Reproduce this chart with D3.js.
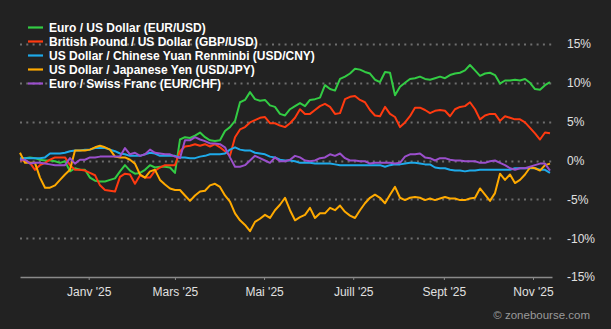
<!DOCTYPE html>
<html><head><meta charset="utf-8">
<script src="https://cdn.jsdelivr.net/npm/d3@7/dist/d3.min.js"></script>
<style>
html,body{margin:0;padding:0;background:#222222;}
svg{display:block;}
</style></head>
<body><svg id="c" width="611" height="329"></svg>
<script>
const seriesNames = ["Euro / US Dollar (EUR/USD)","British Pound / US Dollar (GBP/USD)","US Dollar / Chinese Yuan Renminbi (USD/CNY)","US Dollar / Japanese Yen (USD/JPY)","Euro / Swiss Franc (EUR/CHF)"];
const seriesColors = ["#33cc44","#ff3a10","#1eaaea","#ffaa00","#9b4fcc"];
const eurusd = [0.1,0.3,0.4,0.3,0.1,0,0,-0.1,-0.3,-0.1,-1.4,-1.0,-1.2,-1.2,-2.2,-2.6,-2.7,-2.7,-2.5,-2.3,-1.4,-0.6,-1.3,-1.7,-1.6,-1.2,-0.6,-0.9,-0.8,-0.8,-0.9,-1.6,2.7,3.0,2.9,3.2,3.6,3.0,2.6,2.5,2.6,3.8,4.3,5.1,7.5,7.8,8.8,7.9,7.7,7.8,7.1,6.9,6.0,5.8,6.6,7.0,7.4,7.0,7.8,7.9,8.1,9.7,9.2,9.0,10.5,10.8,11.2,11.8,11.7,11.4,11.2,10.4,10.1,11.4,11.3,8.4,9.5,10.0,10.5,10.6,10.8,10.5,10.4,10.6,10.8,10.6,11.0,11.2,11.3,11.6,12.3,11.6,10.9,11.2,11.3,11.0,9.9,10.3,10.3,10.4,10.3,10.5,10.0,9.2,9.1,9.7,10.1];
const gbpusd = [0,0,-0.3,-1.2,-0.6,-0.3,0.1,0.4,0.4,0.4,-0.6,-1.2,-1.2,-1.3,-1.6,-1.9,-3.2,-3.8,-3.9,-4.0,-2.1,-1.7,-1.8,-3.0,-1.9,-2.2,-2.2,-1.3,-0.9,-0.6,-0.6,-0.6,1.2,1.8,1.9,2.1,1.9,2.1,1.8,2.1,1.7,1.2,0.6,3.0,4.0,4.3,4.9,5.2,5.5,5.6,4.8,4.8,4.5,4.3,4.8,5.5,6.6,6.0,6.0,6.5,7.0,7.3,6.9,6.0,6.1,7.9,8.2,8.3,7.8,7.5,6.5,5.8,5.7,6.9,6.0,5.6,4.3,4.9,5.7,6.8,6.8,6.5,6.1,6.4,6.5,6.4,5.7,6.6,6.9,7.0,7.5,6.6,5.3,5.8,6.0,6.0,5.1,5.7,5.5,5.3,5.3,4.9,4.2,3.5,2.7,3.6,3.5];
const usdcny = [0.3,0.3,0.3,0.3,0.3,0.4,0.9,0.9,0.9,1.0,1.2,1.3,1.3,1.4,1.4,1.6,1.6,1.6,1.4,1.2,0.9,0.8,0.6,0.6,0.6,0.8,1.0,0.9,0.6,0.6,0.6,0.6,0.4,0.4,0.3,0.3,0.5,0.6,0.8,0.8,0.8,0.9,1.4,1.7,1.4,1.3,1.3,1.0,0.9,0.8,0.5,0.4,0.1,0,0,-0.1,-0.3,-0.3,-0.3,-0.4,-0.4,-0.4,-0.4,-0.5,-0.6,-0.6,-0.6,-0.6,-0.6,-0.6,-0.6,-0.6,-0.6,-0.8,-0.6,-0.5,-0.5,-0.4,-0.3,-0.3,-0.4,-0.5,-0.5,-0.9,-1.0,-1.0,-1.2,-1.3,-1.3,-1.4,-1.3,-1.3,-1.2,-1.2,-1.2,-1.2,-1.2,-1.2,-1.2,-1.0,-1.0,-1.0,-1.0,-1.0,-1.2,-1.2,-1.6];
const usdjpy = [1.0,-0.3,-0.3,-0.3,-2.2,-3.5,-3.5,-3.2,-2.5,-1.8,-1.2,1.3,1.3,1.3,1.4,1.7,1.9,1.7,1.4,0.5,0.4,0.4,0.1,-0.4,-1.8,-2.2,-1.4,-1.2,-2.5,-3.1,-3.6,-3.8,-3.8,-4.5,-5.2,-4.5,-4.0,-3.9,-3.2,-3.0,-3.4,-4.5,-5.3,-6.8,-7.7,-8.3,-9.1,-7.9,-7.5,-7.0,-7.4,-6.4,-5.7,-4.8,-6.4,-7.7,-7.3,-7.0,-6.1,-7.4,-6.8,-6.8,-6.1,-6.4,-5.8,-6.6,-7.1,-7.4,-6.4,-5.5,-4.8,-4.4,-4.8,-5.5,-4.4,-3.4,-4.8,-5.1,-4.8,-4.7,-4.8,-5.1,-4.9,-5.1,-4.9,-4.7,-4.9,-4.9,-5.1,-5.1,-4.9,-4.8,-3.6,-4.4,-5.2,-4.2,-1.7,-2.5,-1.8,-2.9,-2.5,-1.8,-0.9,-1.0,-1.3,-0.6,-0.4];
const eurchf = [0.1,0.1,-0.4,-0.3,-0.3,-0.4,-0.5,-0.6,-0.6,-0.6,0.3,-0.4,0.1,0.1,0.4,0.4,0.5,0.5,0.5,0.5,0.5,1.6,0.8,1.0,0.6,0.8,1.4,1.0,0.9,0.8,0.8,0.5,0.3,2.6,2.6,3.0,2.7,2.5,2.2,2.2,2.1,1.7,0.4,-0.8,-0.8,-0.6,0,0.6,0.3,0,-0.3,0.4,-0.1,-0.1,0.1,0.6,0.4,0,-0.1,0,0.3,0.4,0.8,0.6,0.9,0.3,0,0,-0.1,-0.1,-0.4,-0.3,-0.3,-0.3,-0.3,-0.4,-0.3,0.5,0.8,0.8,0.9,0.4,0.3,0,0.3,0.3,0.1,0,0,-0.1,-0.1,-0.1,-0.3,-0.3,-0.1,0,-0.3,-0.6,-1.0,-1.2,-1.0,-1.0,-0.8,-0.6,-0.4,-0.4,-1.3];
const xTickDates = ["2025-01-01","2025-03-01","2025-05-01","2025-07-01","2025-09-01","2025-11-01"];
const xTickLabels = ["Janv '25","Mars '25","Mai '25","Juill '25","Sept '25","Nov '25"];
const yTicks = [15,10,5,0,-5,-10,-15];

const allSeries = [eurusd, gbpusd, usdcny, usdjpy, eurchf];
const startDate = new Date(2024,10,15);
const endDate = new Date(2025,10,14);
const dates = d3.range(eurusd.length).map(i => d3.timeHour.offset(startDate, Math.round(i*5*364*24/532)));

const svg = d3.select("#c");
const font = "'Liberation Sans', Arial, sans-serif";
const x = d3.scaleTime().domain([startDate, endDate]).range([20, 552]);
const y = d3.scaleLinear().domain([-15, 15]).range([277, 44]);

// gridlines
svg.append("g").selectAll("line").data(yTicks.filter(v => v > -15)).join("line")
  .attr("x1", 20).attr("x2", 552)
  .attr("y1", d => Math.round(y(d)) + 0.5).attr("y2", d => Math.round(y(d)) + 0.5)
  .attr("stroke", "#6e6e6e").attr("stroke-width", 2).attr("stroke-dasharray", "2,4.3");

// x axis
const parse = d3.timeParse("%Y-%m-%d");
const xAxis = d3.axisBottom(x).tickValues(xTickDates.map(parse))
  .tickFormat((d, i) => xTickLabels[i]).tickSize(3).tickSizeOuter(0).tickPadding(7);
const gx = svg.append("g").attr("transform", "translate(0,277)").call(xAxis);
gx.select(".domain").attr("stroke", "#8a8a8a").attr("stroke-width", 1.5);
gx.selectAll(".tick line").attr("stroke", "#8a8a8a");
gx.selectAll("text").attr("fill", "#e0e0e0").style("font-family", font).style("font-size", "12px");

// y labels
const yAxis = d3.axisRight(y).tickValues(yTicks).tickFormat(d => d + "%").tickSize(0).tickPadding(0);
const gy = svg.append("g").attr("transform", "translate(567,0)").call(yAxis);
gy.select(".domain").remove();
gy.selectAll("text").attr("fill", "#e0e0e0").style("font-family", font).style("font-size", "12px");

// lines
const line = d3.line().x((d, i) => x(dates[i])).y(d => y(d));
svg.append("g").selectAll("path").data(allSeries).join("path")
  .attr("d", line).attr("fill", "none")
  .attr("stroke", (d, i) => seriesColors[i]).attr("stroke-width", 2)
  .attr("stroke-linejoin", "round");

// legend
const lg = svg.append("g").selectAll("g").data(seriesNames).join("g")
  .attr("transform", (d, i) => `translate(28,${27.5 + i * 14})`);
lg.append("line").attr("x1", 0).attr("x2", 15).attr("y1", 0).attr("y2", 0)
  .attr("stroke", (d, i) => seriesColors[i]).attr("stroke-width", 2.2);
lg.append("text").attr("x", 21).attr("y", 0).attr("dy", "0.36em").text(d => d)
  .attr("fill", "#ffffff").style("font-family", font).style("font-size", "12px").style("font-weight", "bold");

// watermark
svg.append("text").attr("x", 590).attr("y", 315).attr("dy", "0.35em").attr("text-anchor", "end")
  .text("© zonebourse.com").attr("fill", "#9a9a9a").style("font-family", font).style("font-size", "11.5px");
</script></body></html>
